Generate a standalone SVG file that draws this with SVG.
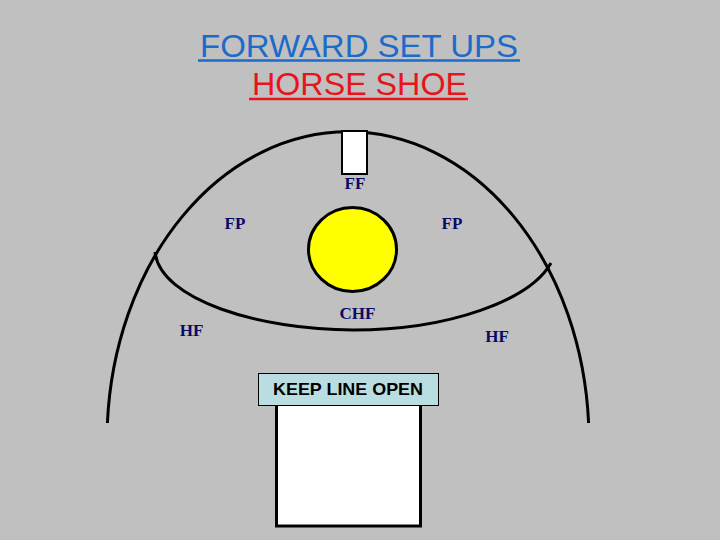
<svg xmlns="http://www.w3.org/2000/svg" width="720" height="540" viewBox="0 0 720 540">
<style>
.lbl{font-family:"Liberation Serif","Times New Roman",serif;font-weight:bold;font-size:17px;fill:#0a0a66;text-anchor:middle}
.title{font-family:"Liberation Sans",Arial,sans-serif;font-size:31px}
.line{fill:none;stroke:#000;stroke-width:3}
</style>
<rect width="720" height="540" fill="#c0c0c0"/>
<g id="title">
<text class="title" x="200" y="57" fill="#1c6bcb" textLength="318" lengthAdjust="spacingAndGlyphs">FORWARD SET UPS</text>
<line x1="198" y1="60.5" x2="520" y2="60.5" stroke="#1c6bcb" stroke-width="2.5"/>
<text class="title" x="252" y="95" fill="#e8141b" textLength="215" lengthAdjust="spacingAndGlyphs">HORSE SHOE</text>
<line x1="249" y1="99" x2="468" y2="99" stroke="#e8141b" stroke-width="2.5"/>
</g>
<g id="connectors">
<path class="line" d="M 107.4 423 A 241 309 0 0 1 588.6 423"/>
<path class="line" d="M 155 252 C 160 300 260 330 353 330 C 450 330 530 300 551 263"/>
</g>
<g id="ff-box">
<rect x="342" y="131" width="25" height="43" fill="#fff" stroke="#000" stroke-width="2"/>
</g>
<g id="puck">
<ellipse cx="352.5" cy="249.5" rx="44" ry="42" fill="#ffff00" stroke="#000" stroke-width="3"/>
</g>
<g id="labels">
<text class="lbl" x="355" y="189">FF</text>
<text class="lbl" x="235" y="229">FP</text>
<text class="lbl" x="452" y="229">FP</text>
<text class="lbl" x="357.5" y="319">CHF</text>
<text class="lbl" x="191.5" y="336">HF</text>
<text class="lbl" x="497" y="342">HF</text>
</g>
<g id="net">
<rect x="276.5" y="404" width="144" height="122" fill="#fff" stroke="#000" stroke-width="3"/>
</g>
<g id="keep-line-open">
<rect x="258.5" y="373.5" width="180" height="32" fill="#b9dde1" stroke="#000" stroke-width="1"/>
<text x="273" y="395" font-family="Liberation Sans, Arial, sans-serif" font-weight="bold" font-size="17" fill="#000" textLength="150" lengthAdjust="spacingAndGlyphs">KEEP LINE OPEN</text>
</g>
</svg>
